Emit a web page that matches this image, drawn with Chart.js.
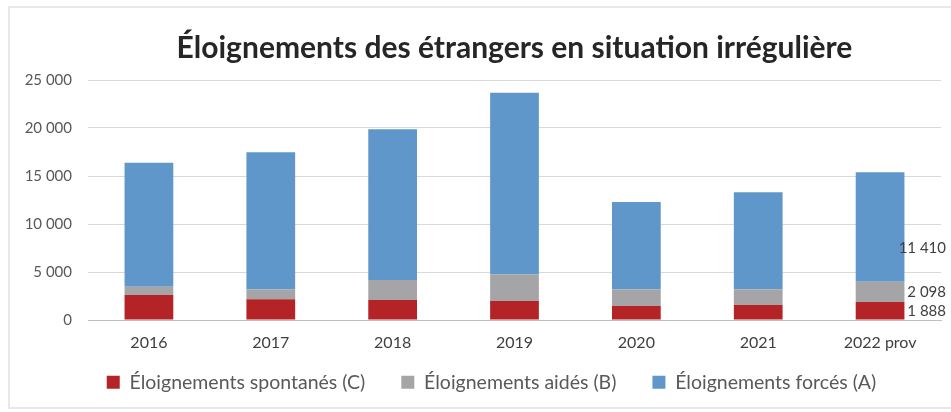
<!DOCTYPE html>
<html lang="fr">
<head>
<meta charset="utf-8">
<title>Éloignements des étrangers en situation irrégulière</title>
<script src="https://cdn.jsdelivr.net/npm/chart.js@4/dist/chart.umd.min.js"></script>
<style>
  html, body { margin: 0; padding: 0; background: #fff; }
  #wrap { position: relative; width: 951px; height: 412px; }
  #frame {
    position: absolute; left: 8px; top: 6px; width: 960px; height: 403px;
    border: 2px solid #e8e8e8; box-sizing: border-box;
  }
  canvas { position: absolute; left: 0; top: 0; }
</style>
</head>
<body>
<div id="wrap">
  <div id="frame"></div>
  <canvas id="histogram" width="951" height="412"></canvas>
</div>
<script>
// années
const years = ["2016", "2017", "2018", "2019", "2020", "2021", "2022 prov"]

// éloignements par type
const spontanes = [2600, 2160, 2080, 1980, 1460, 1560, 1888]
const aides = [870, 1040, 2090, 2780, 1740, 1640, 2098]
const forces = [12900, 14270, 15690, 18920, 9100, 10100, 11410]

const yTicks = [0, 5000, 10000, 15000, 20000, 25000]

const FONT = "Lato, 'Open Sans', sans-serif"

function fmt(v) {
    return String(v).replace(/\B(?=(\d{3})+(?!\d))/g, " ")
}

// valeurs affichées à droite de la dernière barre
const lastLabels = {
    id: "lastLabels",
    afterDatasetsDraw(chart) {
        const ctx = chart.ctx
        const i = years.length - 1
        ctx.save()
        ctx.font = "15px " + FONT
        ctx.fillStyle = "#404040"
        ctx.textAlign = "right"
        ctx.textBaseline = "middle"
        chart.data.datasets.forEach((ds, d) => {
            const bar = chart.getDatasetMeta(d).data[i]
            const top = bar.y, base = bar.base
            // la valeur des éloignements forcés est placée plus bas dans le segment
            const f = d == 2 ? 0.31 : 0.5
            const y = base - (base - top) * f
            ctx.fillText(fmt(ds.data[i]), 946, y)
        })
        ctx.restore()
    }
}

// décale un peu la légende vers la droite
const LEGEND_RIGHT = 16
const legendShift = {
    id: "legendShift",
    beforeInit(chart) {
        const lg = chart.legend
        const draw = lg.draw
        lg.draw = function () {
            this.ctx.save()
            this.ctx.translate(LEGEND_RIGHT, 0)
            draw.call(this)
            this.ctx.restore()
        }
    }
}

const ctx1 = document.getElementById("histogram").getContext("2d")
new Chart(ctx1, {
    type: "bar",
    data: {
        labels: years,
        datasets: [{
            label: "Éloignements spontanés (C)",
            data: spontanes,
            backgroundColor: "#b42326"
        },
        {
            label: "Éloignements aidés (B)",
            data: aides,
            backgroundColor: "#a5a5a7"
        },
        {
            label: "Éloignements forcés (A)",
            data: forces,
            backgroundColor: "#6097ca"
        }
        ]
    },
    options: {
        responsive: false,
        animation: false,
        datasets: { bar: { barPercentage: 0.4, categoryPercentage: 1 } },
        layout: { padding: { left: 10, right: 10, top: 8, bottom: 10 } },
        plugins: {
            title: {
                display: true,
                fullSize: false,
                text: "Éloignements des étrangers en situation irrégulière",
                color: "#262626",
                font: { family: FONT, size: 30, weight: "bold" },
                padding: { top: 22, bottom: 14 }
            },
            legend: {
                position: "bottom",
                labels: {
                    color: "#595959",
                    font: { family: FONT, size: 19.5 },
                    boxWidth: 13,
                    boxHeight: 13,
                    padding: 36
                }
            },
            tooltip: { enabled: false }
        },
        scales: {
            x: {
                stacked: true,
                // axe peu haut : les libellés débordent dans le haut de la légende
                afterFit: s => {
                    s.height = 16.5
                    s._computeLabelArea = () => null
                },
                grid: { display: false },
                border: { color: "#bfbfbf" },
                ticks: { color: "#404040", font: { family: FONT, size: 16 }, padding: 5 }
            },
            y: {
                stacked: true,
                min: 0,
                max: 25000,
                afterFit: s => { s.width = 78 },
                afterBuildTicks: s => { s.ticks = yTicks.map(v => ({ value: v })) },
                border: { display: false },
                grid: {
                    color: c => c.tick.value === 0 ? "#bfbfbf" : "#d9d9d9",
                    drawTicks: false
                },
                ticks: {
                    color: "#595959",
                    font: { family: FONT, size: 15 },
                    padding: 16,
                    callback: v => fmt(v)
                }
            }
        }
    },
    plugins: [lastLabels, legendShift]
})
</script>
</body>
</html>
